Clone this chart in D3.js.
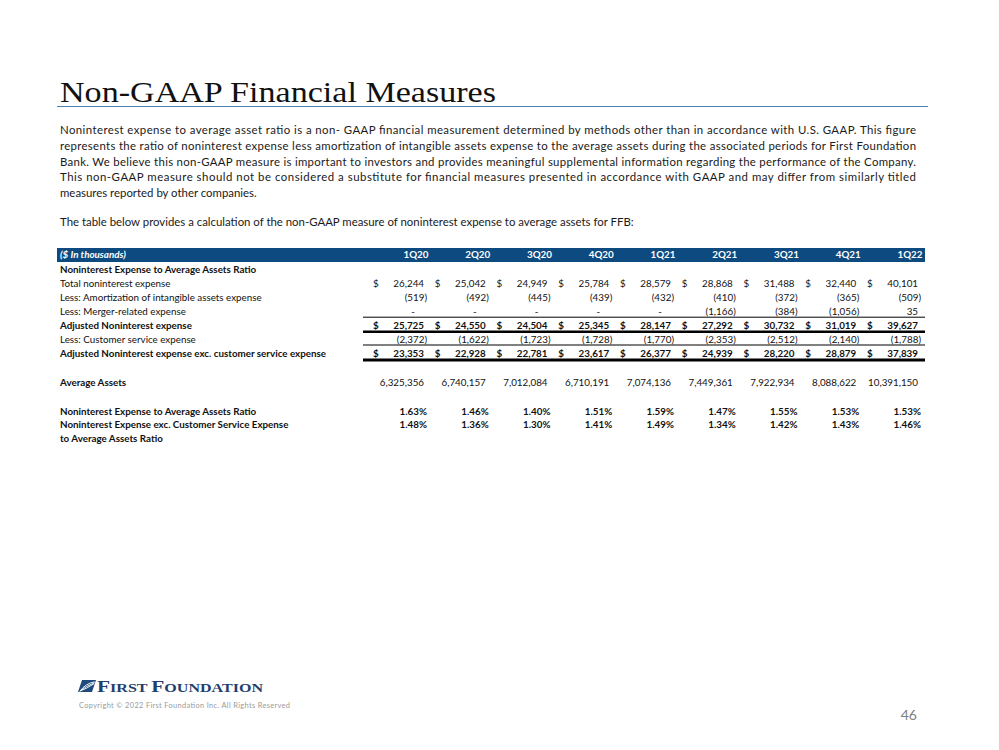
<!DOCTYPE html>
<html><head><meta charset="utf-8">
<script src="https://cdn.jsdelivr.net/npm/d3@7/dist/d3.min.js"></script>
<style>
html,body{margin:0;padding:0;background:#fff;}
svg{display:block;}
</style></head>
<body><svg id="c" width="999" height="750"></svg>
<script>
// ---------- data ----------
const quarters = ["1Q20","2Q20","3Q20","4Q20","1Q21","2Q21","3Q21","4Q21","1Q22"];
const totalNonint = [26244,25042,24949,25784,28579,28868,31488,32440,40101];
const amortization = [-519,-492,-445,-439,-432,-410,-372,-365,-509];
const mergerExpense = [0,0,0,0,0,-1166,-384,-1056,35];
const adjustedNonint = [25725,24550,24504,25345,28147,27292,30732,31019,39627];
const customerService = [-2372,-1622,-1723,-1728,-1770,-2353,-2512,-2140,-1788];
const adjustedExcCS = [23353,22928,22781,23617,26377,24939,28220,28879,37839];
const averageAssets = [6325356,6740157,7012084,6710191,7074136,7449361,7922934,8088622,10391150];
const ratioToAssets = [1.63,1.46,1.40,1.51,1.59,1.47,1.55,1.53,1.53];
const ratioExcCS = [1.48,1.36,1.30,1.41,1.49,1.34,1.42,1.43,1.46];

const titleText = "Non-GAAP Financial Measures";
const paragraph = [
 "Noninterest expense to average asset ratio is a non- GAAP financial measurement determined by methods other than in accordance with U.S. GAAP.  This figure",
 "represents the ratio of noninterest expense less amortization of intangible assets expense to the average assets during the associated periods for First Foundation",
 "Bank. We believe this non-GAAP measure is important to investors and  provides meaningful supplemental information regarding the performance of the Company.",
 "This non-GAAP measure should not be considered a substitute for financial measures presented in accordance with GAAP and may differ from similarly titled",
 "measures reported by other companies."
];
const introLine = "The table below provides a calculation of the non-GAAP measure of noninterest expense to average assets for FFB:";

const rows = [
 {label:"Noninterest Expense to Average Assets Ratio", bold:true, values:null, slot:0},
 {label:"Total noninterest expense", bold:false, values:totalNonint, dollar:true, kind:"num", slot:1},
 {label:"Less: Amortization of intangible assets expense", bold:false, values:amortization, kind:"num", slot:2},
 {label:"Less: Merger-related expense", bold:false, values:mergerExpense, kind:"num", slot:3, lineBelow:1},
 {label:"Adjusted Noninterest expense", bold:true, values:adjustedNonint, dollar:true, kind:"num", slot:4, lineBelow:2.5},
 {label:"Less: Customer service expense", bold:false, values:customerService, kind:"num", slot:5, lineBelow:1},
 {label:"Adjusted Noninterest expense exc. customer service expense", bold:true, values:adjustedExcCS, dollar:true, kind:"num", slot:6, lineBelow:3},
 {label:"Average Assets", bold:true, values:averageAssets, kind:"num", valBold:false, slot:8.1},
 {label:"Noninterest Expense to Average Assets Ratio", bold:true, values:ratioToAssets, kind:"pct", slot:10.15},
 {label:"Noninterest Expense exc. Customer Service Expense", bold:true, values:ratioExcCS, kind:"pct", slot:11.15},
 {label:"to Average Assets Ratio", bold:true, values:null, slot:12.1}
];

// ---------- drawing ----------
const svg = d3.select("#c");
const FONT = "Lato, 'Open Sans', sans-serif";
const TFS = 9.8;

// title
svg.append("text").attr("x",60).attr("y",102)
  .attr("font-family","'Liberation Serif', 'DejaVu Serif', serif")
  .attr("font-size",30).attr("fill","#111")
  .attr("textLength",436).attr("lengthAdjust","spacingAndGlyphs")
  .text(titleText);
svg.append("line").attr("x1",57).attr("x2",928).attr("y1",106.5).attr("y2",106.5)
  .attr("stroke","#4f7fae").attr("stroke-width",1.2);

// paragraph
const paraY = [134,150,166,181,197];
paragraph.forEach((t,i)=>{
  const tx = svg.append("text").attr("x",60).attr("y",paraY[i])
    .attr("font-family",FONT).attr("font-size",11.4).attr("fill","#1a1a1a").text(t);
  if(i<4) tx.attr("textLength",856).attr("lengthAdjust","spacing");
});
svg.append("text").attr("x",60).attr("y",226)
  .attr("font-family",FONT).attr("font-size",11.4).attr("fill","#1a1a1a").text(introLine);

// table scales
const x = d3.scalePoint().domain(quarters).range([416,910]);
const y = d3.scaleLinear().domain([0,1]).range([270,283.9]);
const tableLeft = 57, tableRight = 925, ruleLeft = 363;

// header bar
svg.append("rect").attr("x",tableLeft).attr("y",248).attr("width",tableRight-tableLeft).attr("height",14)
  .attr("fill","#0d4a80");
svg.append("text").attr("x",60).attr("y",255).attr("dy","0.35em")
  .attr("font-family",FONT).attr("font-size",TFS).attr("font-weight","bold").attr("font-style","italic")
  .attr("fill","#fff").text("($ In thousands)");
svg.selectAll("text.qh").data(quarters).enter().append("text").attr("class","qh")
  .attr("x",d=>x(d)).attr("y",255).attr("dy","0.35em").attr("text-anchor","middle")
  .attr("font-family",FONT).attr("font-size",TFS).attr("font-weight","bold").attr("fill","#fff").text(d=>d);

const fmtInt = d3.format(",");
function fmt(v, kind){
  if(kind==="pct") return {t:v.toFixed(2)+"%", shift:3};
  if(v===0) return {t:"-", shift:-9};
  if(v<0) return {t:"("+fmtInt(-v)+")", shift:3};
  return {t:fmtInt(v), shift:0};
}

rows.forEach(r=>{
  const yy = y(r.slot);
  svg.append("text").attr("x",60).attr("y",yy).attr("dy","0.35em")
    .attr("font-family",FONT).attr("font-size",TFS).attr("font-weight",r.bold?"bold":"normal")
    .attr("fill","#111").text(r.label);
  if(r.values){
    const vb = r.valBold===undefined ? r.bold : r.valBold;
    const g = svg.append("g");
    g.selectAll("text.v").data(r.values.map((v,i)=>({v,q:quarters[i]}))).enter().append("text")
      .attr("x",d=>x(d.q)+8+fmt(d.v,r.kind).shift).attr("y",yy).attr("dy","0.35em").attr("text-anchor","end")
      .attr("font-family",FONT).attr("font-size",TFS).attr("font-weight",vb?"bold":"normal")
      .attr("fill","#111").text(d=>fmt(d.v,r.kind).t);
    if(r.dollar){
      g.selectAll("text.d").data(quarters).enter().append("text")
        .attr("x",d=>x(d)-43).attr("y",yy).attr("dy","0.35em")
        .attr("font-family",FONT).attr("font-size",TFS).attr("font-weight",vb?"bold":"normal")
        .attr("fill","#111").text("$");
    }
  }
  if(r.lineBelow){
    svg.append("line").attr("x1",ruleLeft).attr("x2",tableRight)
      .attr("y1",yy+5+r.lineBelow/2).attr("y2",yy+5+r.lineBelow/2)
      .attr("stroke","#000").attr("stroke-width",r.lineBelow);
  }
});

// footer logo
const logo = svg.append("g").attr("transform","translate(78,680)");
logo.append("path").attr("d","M4,0 L18,0 L14,12 L0,12 Z").attr("fill","#1f4a7c");
[3,6,9].forEach(k=>{
  logo.append("path").attr("d",`M${1+k*0.2},${12-k*0.15} Q ${8},${k} ${17-k*0.1},${1+k*0.3}`)
    .attr("fill","none").attr("stroke","#fff").attr("stroke-width",0.9);
});
const brand = svg.append("text").attr("x",97).attr("y",692)
  .attr("font-family","'Liberation Serif','DejaVu Serif',serif").attr("font-weight","bold")
  .attr("fill","#1f3f6e").attr("textLength",166).attr("lengthAdjust","spacingAndGlyphs");
[["F",16],["IRST ",12],["F",16],["OUNDATION",12]].forEach(([t,s])=>{
  brand.append("tspan").attr("font-size",s).text(t);
});
svg.append("text").attr("x",79).attr("y",708)
  .attr("font-family",FONT).attr("font-size",7.4).attr("fill","#9a9a9a")
  .attr("textLength",211).attr("lengthAdjust","spacing")
  .text("Copyright \u00A9 2022 First Foundation Inc. All Rights Reserved");
svg.append("text").attr("x",917).attr("y",720).attr("text-anchor","end")
  .attr("font-family",FONT).attr("font-size",14).attr("fill","#808080").text("46");
</script>
</body></html>
